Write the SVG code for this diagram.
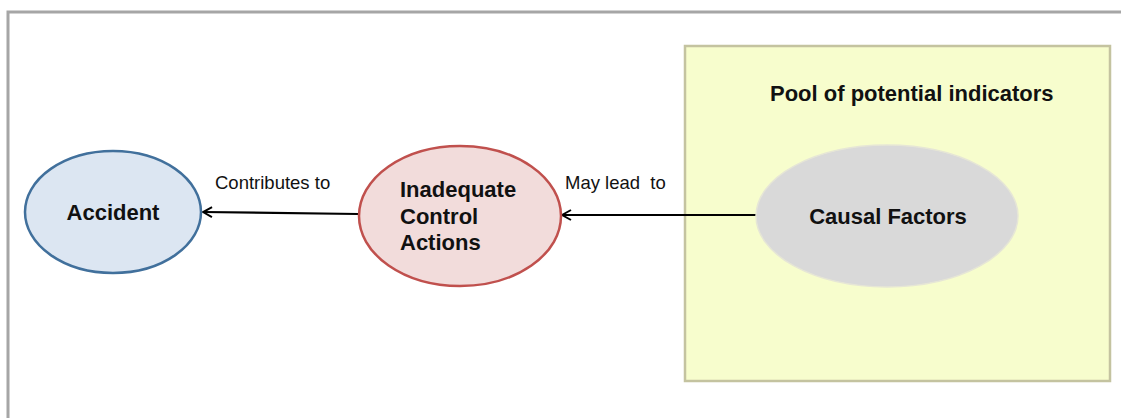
<svg xmlns="http://www.w3.org/2000/svg" width="1121" height="418" viewBox="0 0 1121 418">
  <style>
    .bold { font-family: "Liberation Sans", Arial, sans-serif; font-weight: bold; fill: #111; font-size: 22px; }
    .lbl { font-family: "Liberation Sans", Arial, sans-serif; font-size: 18.5px; fill: #111; }
    .conn { stroke: #000; stroke-width: 2.2; fill: none; marker-end: url(#open); }
  </style>
  <defs>
    <marker id="open" viewBox="0 0 12 12" refX="11" refY="6" markerWidth="12" markerHeight="12" markerUnits="userSpaceOnUse" orient="auto">
      <path d="M2,1 L11,6 L2,11" fill="none" stroke="#000" stroke-width="2"/>
    </marker>
  </defs>
  <rect width="1121" height="418" fill="#fff"/>
  <!-- outer frame -->
  <path d="M8,418 V12 H1121" fill="none" stroke="#a6a6a6" stroke-width="3"/>

  <g id="pool">
    <rect x="685" y="46" width="425" height="335" fill="#f7fdcd" stroke="#c4c3a0" stroke-width="2.5"/>
    <text class="bold" x="770" y="101">Pool of potential indicators</text>
  </g>

  <g id="connectors">
    <line class="conn" x1="758" y1="215" x2="562" y2="215"/>
    <line class="conn" x1="358" y1="214" x2="203" y2="212"/>
    <text class="lbl" x="215" y="189">Contributes to</text>
    <text class="lbl" x="565" y="189" xml:space="preserve">May lead  to</text>
  </g>

  <g id="accident">
    <ellipse cx="113" cy="212" rx="88" ry="61" fill="#dce6f2" stroke="#41709c" stroke-width="2.5"/>
    <text class="bold" x="113" y="220" text-anchor="middle">Accident</text>
  </g>

  <g id="inadequate-control-actions">
    <ellipse cx="460" cy="216" rx="101" ry="70" fill="#f2dcdb" stroke="#c0504d" stroke-width="2.5"/>
    <text class="bold">
      <tspan x="400" y="197">Inadequate</tspan>
      <tspan x="400" y="224">Control</tspan>
      <tspan x="400" y="250">Actions</tspan>
    </text>
  </g>

  <g id="causal-factors">
    <ellipse cx="887" cy="216" rx="131" ry="71" fill="#d9d9d9" stroke="#e6e6d6" stroke-width="1.5"/>
    <text class="bold" x="888" y="224" text-anchor="middle">Causal Factors</text>
  </g>
</svg>
